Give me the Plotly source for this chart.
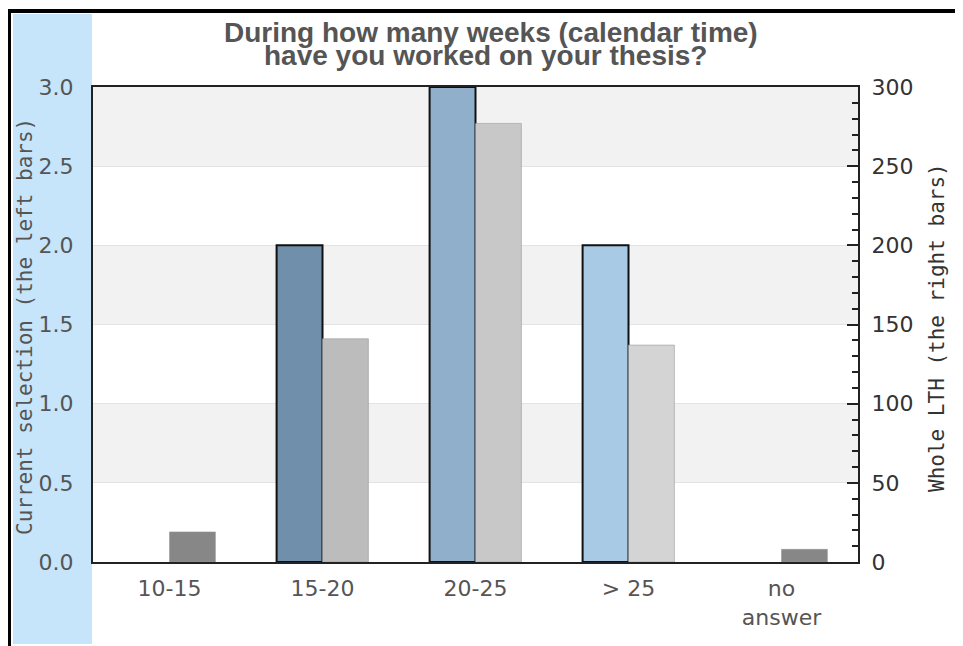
import plotly.graph_objects as go

categories = ["10-15", "15-20", "20-25", "> 25", "no<br>answer"]
selection_values = [0, 2, 3, 2, 0]
lth_values = [19, 141, 277, 137, 8]
selection_colors = ["#6f8fab", "#6f8fab", "#8fafcb", "#a8cae5", "#a8cae5"]
lth_colors = ["#878787", "#bcbcbc", "#c8c8c8", "#d4d4d4", "#878787"]
left_ticks = [0, 0.5, 1.0, 1.5, 2.0, 2.5, 3.0]
right_ticks = [0, 50, 100, 150, 200, 250, 300]
title_lines = ["During how many weeks (calendar time)", "have you worked on your thesis?"]
left_title = "Current selection (the left bars)"
right_title = "Whole LTH (the right bars)"

# the page body has an 8px margin; figure is sized so the plot lands where the reference has it
OFF = 8
W, H = 955, 638
L, R, T, B = 85, 105, 79, 84
PW, PH = W - L - R, H - T - B

def px(x):  # page pixel -> paper x
    return (x - OFF - L) / PW

def py(y):  # page pixel -> paper y
    return (H - B - (y - OFF)) / PH

fig = go.Figure()
fig.add_trace(go.Bar(
    x=categories, y=selection_values, yaxis="y", offsetgroup="sel",
    marker=dict(color=selection_colors,
                line=dict(color="#111111", width=[2 if v else 0 for v in selection_values])),
    showlegend=False, hoverinfo="skip",
))
fig.add_trace(go.Bar(
    x=categories, y=lth_values, yaxis="y2", offsetgroup="lth",
    marker=dict(color=lth_colors, line=dict(color="rgba(150,150,150,0.55)", width=1)),
    showlegend=False, hoverinfo="skip",
))

shapes = []
for lo in [2.5, 1.5, 0.5]:
    shapes.append(dict(type="rect", xref="paper", yref="y", x0=0, x1=1, y0=lo, y1=lo + 0.5,
                       fillcolor="#f2f2f2", line=dict(width=0), layer="below"))
shapes.append(dict(type="rect", xref="paper", yref="paper", x0=px(13), x1=px(92), y0=py(644), y1=py(14),
                   fillcolor="#c6e5fb", line=dict(width=0), layer="below"))
shapes.append(dict(type="line", xref="paper", yref="paper", x0=px(7), x1=px(970), y0=py(11), y1=py(11),
                   line=dict(color="#000000", width=4)))
shapes.append(dict(type="line", xref="paper", yref="paper", x0=px(9), x1=px(9), y0=py(9), y1=py(660),
                   line=dict(color="#000000", width=4)))

annotations = [
    dict(text=title_lines[0], xref="paper", yref="paper", x=px(491), y=py(33), xanchor="center", yanchor="middle",
         showarrow=False, font=dict(family="Liberation Sans", size=28, color="#555555", weight="bold")),
    dict(text=title_lines[1], xref="paper", yref="paper", x=px(486), y=py(55), xanchor="center", yanchor="middle",
         showarrow=False, font=dict(family="Liberation Sans", size=28, color="#555555", weight="bold")),
    dict(text=left_title, xref="paper", yref="paper", x=px(25), y=py(327), xanchor="center", yanchor="middle",
         textangle=-90, showarrow=False, font=dict(family="DejaVu Sans Mono", size=21, color="#555555")),
    dict(text=right_title, xref="paper", yref="paper", x=px(937), y=py(328), xanchor="center", yanchor="middle",
         textangle=-90, showarrow=False, font=dict(family="DejaVu Sans Mono", size=21, color="#333333")),
]

fig.update_layout(
    width=W, height=H,
    margin=dict(l=L, r=R, t=T, b=B, pad=0),
    paper_bgcolor="white", plot_bgcolor="white",
    barmode="group", bargap=0.4, bargroupgap=0,
    shapes=shapes, annotations=annotations,
    xaxis=dict(
        type="category", showgrid=False, ticks="", showline=True, linecolor="#222222", linewidth=2,
        mirror=True, tickfont=dict(family="DejaVu Sans", size=22, color="#555555"),
        ticklabelstandoff=6, zeroline=False,
    ),
    yaxis=dict(
        range=[0, 3], tickvals=left_ticks, tickformat=".1f", showgrid=True, gridcolor="#e3e3e3", gridwidth=1,
        ticks="", showline=True, linecolor="#222222", linewidth=2, zeroline=False,
        tickfont=dict(family="DejaVu Sans", size=22, color="#555555"), ticklabelstandoff=13,
    ),
    yaxis2=dict(
        range=[0, 300], tickvals=right_ticks, overlaying="y", side="right", showgrid=False,
        ticks="inside", ticklen=11, tickwidth=2, tickcolor="#222222",
        minor=dict(dtick=10, ticks="inside", ticklen=6, tickwidth=2, tickcolor="#222222"),
        showline=True, linecolor="#222222", linewidth=2, zeroline=False,
        tickfont=dict(family="DejaVu Sans", size=22, color="#333333"), ticklabelstandoff=7,
    ),
)

fig.write_html("out.html")
